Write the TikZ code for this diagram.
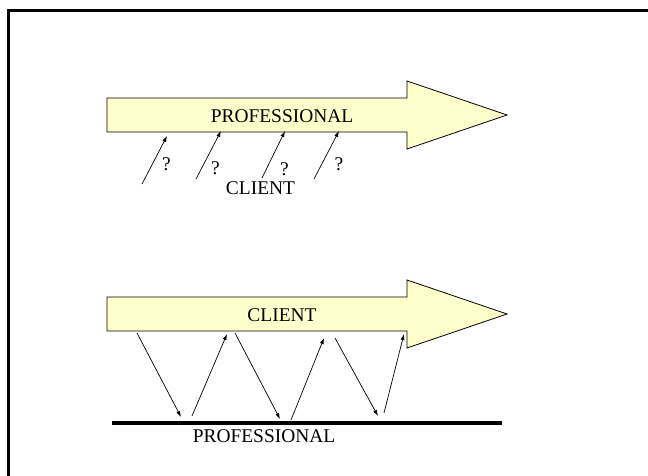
\documentclass[tikz,border=0pt]{standalone}
\usepackage{fontspec}
\setmainfont{Liberation Serif}
\usetikzlibrary{arrows.meta}

\definecolor{paleyellow}{RGB}{255,255,204}

\tikzstyle{bigarrow}=[draw=black,fill=paleyellow,line width=0.8bp,line join=miter]
\tikzstyle{hint}=[line width=0.7bp,-{Latex[length=6bp,width=4bp]}]
\tikzstyle{label}=[inner sep=0pt,font=\fontsize{19.5}{22}\selectfont]

\begin{document}
\begin{tikzpicture}[x=1bp,y=-1bp]
    \useasboundingbox (0,0) rectangle (648,476);
    \draw[line width=2.5bp] (8.5,476) -- (8.5,10.5) -- (648,10.5);

    % upper: the professional leads
    \path[bigarrow] (107,98)  -- (407,98)  -- (407,81)  -- (507,115)
                    -- (407,149) -- (407,132) -- (107,132) -- cycle;
    \node[label] (prof-top) at (282,116.5) {PROFESSIONAL};
    \node[label] (client-top) at (260.5,188.5) {CLIENT};

    \foreach \i/\fx/\fy/\tx/\ty/\qx/\qy in {1/142/184/167/136/166.5/164.5,
                                            2/196/179/221/131/215.5/168,
                                            3/262/178/285/131/284.5/169.5,
                                            4/314/179/339/131/339/164.5} {
        \coordinate (ask\i-from) at (\fx,\fy);
        \coordinate (ask\i-to)   at (\tx,\ty);
        \node[label] (ask\i) at (\qx,\qy) {?};
        \draw[hint] (ask\i-from) -- (ask\i-to);
    }

    % lower: the client leads
    \path[bigarrow] (107,297) -- (407,297) -- (407,280) -- (507,314)
                    -- (407,348) -- (407,331) -- (107,331) -- cycle;
    \node[label] (client-bot) at (282,315) {CLIENT};

    \coordinate (base-left)  at (112,423);
    \coordinate (base-right) at (502,423);
    \draw[line width=4.5bp] (base-left) -- (base-right);
    \node[label] (prof-bot) at (264,436.5) {PROFESSIONAL};

    \foreach \i/\fx/\fy/\tx/\ty in {1/137/333/181/417, 2/192/416/227/334,
                                    3/235/333/280/419, 4/291/420/324/338,
                                    5/335/338/378/416, 6/384/413/404/334} {
        \coordinate (zig\i-from) at (\fx,\fy);
        \coordinate (zig\i-to)   at (\tx,\ty);
        \draw[hint] (zig\i-from) -- (zig\i-to);
    }
\end{tikzpicture}
\end{document}
